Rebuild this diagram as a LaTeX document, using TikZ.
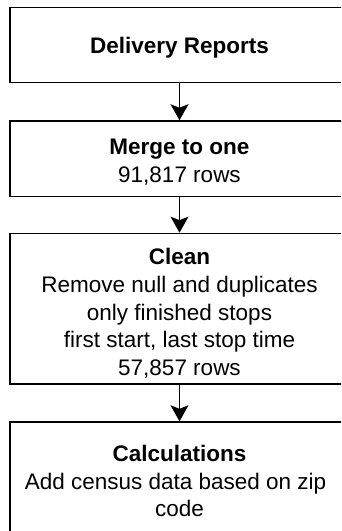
\documentclass[tikz,border=0pt]{standalone}
\usepackage{fontspec}
\setmainfont{Liberation Sans}
\usetikzlibrary{arrows.meta}

% strut that pushes the first line of a box down a little
\newcommand{\toplift}[1]{\rule{0pt}{#1}}

\tikzset{
  stagebox/.style={draw=black, line width=1.4pt, fill=white, inner sep=0pt,
    minimum width=339pt, align=center,
    font=\fontsize{22.5}{27.7}\selectfont},
  flowarrow/.style={draw=black, line width=1.4pt,
    -{Stealth[length=16pt, width=18pt, inset=3.5pt]}},
}

\begin{document}
\begin{tikzpicture}[x=1pt, y=-1pt]
  \useasboundingbox (0,0) rectangle (341,531);
  \clip (0,0) rectangle (341,531);
  \fill[white] (0,0) rectangle (341,531);

  \node[stagebox, minimum height=75.4pt] (reports) at (179.5,45)
    {\toplift{21.5pt}\textbf{Delivery Reports}};
  \node[stagebox, minimum height=75.7pt] (merge) at (179.5,158.8)
    {\toplift{22.5pt}\textbf{Merge to one}\\91,817 rows};
  \node[stagebox, minimum height=150.7pt] (clean) at (179.5,308.7)
    {\toplift{26pt}\textbf{Clean}\\Remove null and duplicates\\only finished stops\\first start, last stop time\\57,857 rows};
  \node[stagebox, minimum height=118pt] (calc) at (179.5,481)
    {\textbf{Calculations}\\Add census data based on zip\kern8pt\\code};

  \draw[flowarrow] (reports.south) -- (merge.north);
  \draw[flowarrow] (merge.south) -- (clean.north);
  \draw[flowarrow] (clean.south) -- (calc.north);
\end{tikzpicture}
\end{document}
